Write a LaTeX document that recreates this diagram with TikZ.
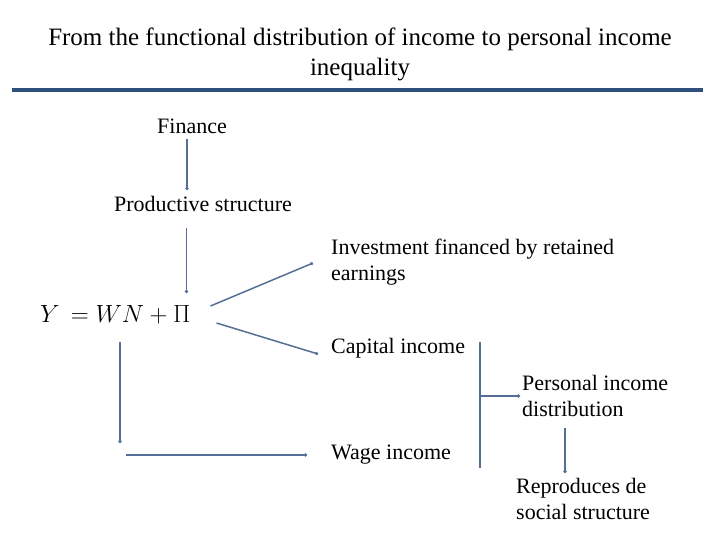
\documentclass[tikz,border=0pt]{standalone}
\usepackage{fontspec}
\setmainfont{Liberation Serif}
\usetikzlibrary{arrows.meta, positioning}
\definecolor{linkblue}{RGB}{84,111,148}
\definecolor{ruleblue}{RGB}{47,79,125}
\tikzset{
    term/.style={font=\fontsize{22}{26}\selectfont, inner sep=0pt, align=left},
    heading/.style={font=\fontsize{25}{30}\selectfont, inner sep=0pt, align=center},
    flow/.style={-{Circle[length=3pt]}, linkblue, line width=1.5pt},
    bar/.style={linkblue, line width=1.5pt} }

\begin{document}
\begin{tikzpicture}[x=1pt, y=-1pt]
      \useasboundingbox (0,0) rectangle (720,540);
      \node[heading] (title) at (360,54) {From the functional distribution of income to personal income\\inequality};
      \draw[ruleblue, line width=4pt] (12,90) -- (703,90);
      % ----
      \node[term] (fin) at (192,126) {Finance};
      \node[term] (prod) at (203,204) {Productive structure};
      \node[term, anchor=west, font=\fontsize{26}{30}\selectfont] (eq) at (40,315) {$Y\,=WN+\Pi$};
      \node[term, anchor=west] (inv) at (331,262) {Investment financed by retained\\earnings};
      \node[term, anchor=west] (cap) at (331,348) {Capital income};
      \node[term, anchor=west] (wage) at (331,455) {Wage income};
      \node[term, anchor=west] (pers) at (522,396) {Personal income\\distribution};
      \node[term, anchor=west] (repr) at (516,499) {Reproduces de\\social structure};
      % ----
      \coordinate (wtop) at (120,342);
      \coordinate (wbot) at (120,443);
      \coordinate (btop) at (480,342);
      \coordinate (bbot) at (480,468);
      \coordinate (pdown) at (565,428);
      % ----
      \draw[flow] ([xshift=-5]fin.south |- 0,139) -- ([xshift=-5]fin.south |- 0,190);
      \draw[flow] ([xshift=-4]eq.north east |- 0,228) -- ([xshift=-4]eq.north east |- 0,293);
      \draw[flow] ([shift={(20,-9)}]eq.east) -- ([shift={(-18,1)}]inv.west);
      \draw[flow] ([shift={(26,8)}]eq.east) -- ([shift={(-13,6)}]cap.west);
      \draw[flow] (wtop) -- (wbot);
      \draw[flow] ([xshift=6]wbot |- wage.west) -- ([xshift=-24]wage.west);
      \draw[bar] (btop) -- (bbot);
      \draw[flow] (btop |- pers.west) -- ([xshift=-2]pers.west);
      \draw[flow] (pdown) -- (pdown |- 0,473);
\end{tikzpicture}
\end{document}
